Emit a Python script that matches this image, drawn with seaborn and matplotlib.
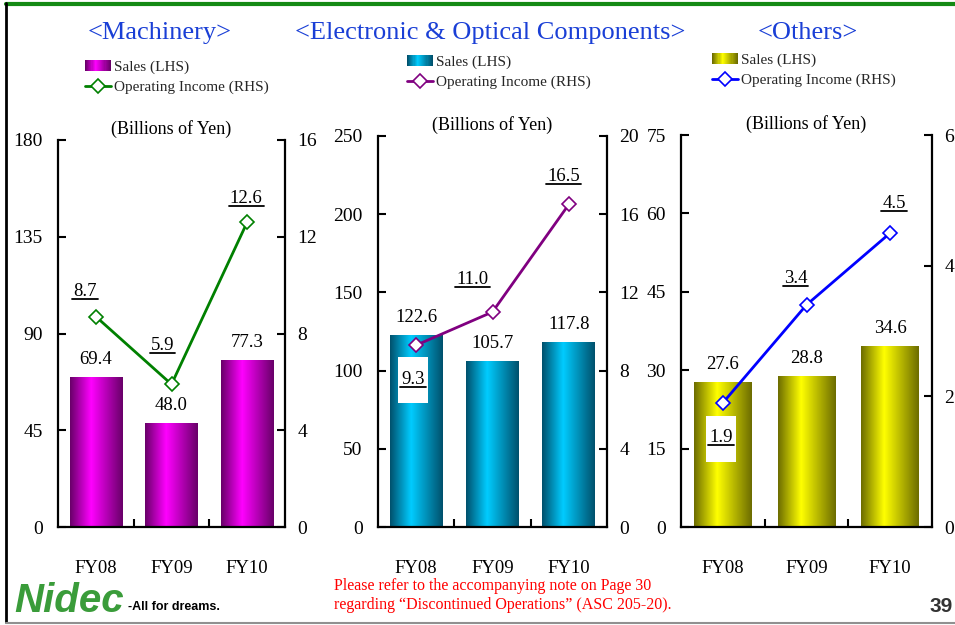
import numpy as np
import pandas as pd
import matplotlib
matplotlib.use("Agg")
import matplotlib.pyplot as plt
import seaborn as sns
from matplotlib.colors import LinearSegmentedColormap
from matplotlib.lines import Line2D
from matplotlib.patches import Rectangle
from matplotlib.legend_handler import HandlerBase
from matplotlib.transforms import IdentityTransform

# ---- data ----
years = ["FY08", "FY09", "FY10"]
segments = ["<Machinery>", "<Electronic & Optical Components>", "<Others>"]

sales_machinery = [69.4, 48.0, 77.3]
sales_electronic = [122.6, 105.7, 117.8]
sales_others = [27.6, 28.8, 34.6]

oi_machinery = [8.7, 5.9, 12.6]
oi_electronic = [9.3, 11.0, 16.5]
oi_others = [1.9, 3.4, 4.5]

lhs_max = [180, 250, 75]
lhs_step = [45, 50, 15]
rhs_max = [16, 20, 6]
rhs_step = [4, 4, 2]

sales_all = [sales_machinery, sales_electronic, sales_others]
oi_all = [oi_machinery, oi_electronic, oi_others]

# ---- style ----
W, H = 955, 625
bar_dark = ["#680068", "#00506c", "#6c6c00"]
bar_bright = ["#ff00ff", "#00ccff", "#ffff00"]
line_colors = ["#008000", "#800080", "#0000ff"]
# axes boxes in pixels: left, top, right, bottom
ax_px = [(58, 140, 285, 527), (378, 136, 607, 527), (681, 135, 932, 527)]
title_x = [160, 490, 808]
legend_anchor = [(85, 60), (407, 55), (712, 53)]
# label offsets (pixels) for operating income labels
oi_offsets = [[(-11, 25), (-9, 39), (-1, 24)],
              [(-3, -34), (-20, 32), (-5, 28)],
              [(-2, -35), (-11, 26), (4, 30)]]
oi_boxed = [[False, False, False], [True, False, False], [True, False, False]]


class GradientHandler(HandlerBase):
    def __init__(self, cmap, n=24):
        super().__init__()
        self.cmap = cmap
        self.n = n

    def create_artists(self, legend, orig_handle, xdescent, ydescent,
                       width, height, fontsize, trans):
        arts = []
        step = width / self.n
        for k in range(self.n):
            r = Rectangle((-xdescent + k * step, -ydescent), step * 1.05, height,
                          facecolor=self.cmap(k / (self.n - 1)), edgecolor="none",
                          transform=trans)
            arts.append(r)
        return arts


sns.set_theme(style="white")
plt.rcParams["font.family"] = ["Liberation Serif", "DejaVu Serif"]

fig = plt.figure(figsize=(W / 100, H / 100), dpi=100)

oi_texts = []
for i in range(3):
    l, t, r, b = ax_px[i]
    ax = fig.add_axes([l / W, 1 - b / H, (r - l) / W, (b - t) / H])
    df = pd.DataFrame({"year": years, "sales": sales_all[i], "oi": oi_all[i]})

    sns.barplot(data=df, x="year", y="sales", color=bar_bright[i], saturation=1,
                width=0.69, ax=ax)
    cmap = LinearSegmentedColormap.from_list(
        "g%d" % i, [(0, bar_dark[i]), (0.4, bar_bright[i]), (1, bar_dark[i])])
    grad = np.linspace(0, 1, 256).reshape(1, -1)
    for p in ax.patches:
        x0, w, h = p.get_x(), p.get_width(), p.get_height()
        ax.imshow(grad, extent=[x0, x0 + w, 0, h], aspect="auto", cmap=cmap,
                  origin="lower", zorder=2)
        p.set_visible(False)
        ax.annotate(f"{h:.1f}", (x0 + w / 2, h), xytext=(0, 18),
                    textcoords="offset pixels", ha="center", va="center",
                    fontsize=13.5, color="black", zorder=3)
    ax.set_ylim(0, lhs_max[i])

    ax2 = ax.twinx()
    sns.pointplot(data=df, x="year", y="oi", color=line_colors[i], markers="D",
                  errorbar=None, markersize=7, markerfacecolor="white",
                  markeredgewidth=1.2, linewidth=2, ax=ax2)
    ax2.set_ylim(0, rhs_max[i])
    for j, v in enumerate(oi_all[i]):
        txt = ax2.annotate(f"{v:.1f}", (j, v), xytext=oi_offsets[i][j],
                           textcoords="offset pixels", ha="center", va="center",
                           fontsize=13.5, color="black", zorder=6)
        oi_texts.append((txt, oi_boxed[i][j], ax2))

    # axes cosmetics
    ax.set_xlim(-0.5, 2.5)
    ax.set_xticks([0, 1, 2])
    ax.set_xticklabels(years)
    ax.set_xticks([0.5, 1.5], minor=True)
    ax.set_yticks(np.arange(0, lhs_max[i] + 1, lhs_step[i]))
    ax2.set_yticks(np.arange(0, rhs_max[i] + 1, rhs_step[i]))
    ax.set_xlabel("")
    ax.set_ylabel("")
    ax2.set_xlabel("")
    ax2.set_ylabel("")
    ax.tick_params(axis="x", which="major", length=0, pad=24, labelsize=13.5,
                   colors="black")
    ax.tick_params(axis="x", which="minor", direction="in", length=6, width=1.5,
                   color="black", bottom=True)
    ax.tick_params(axis="y", direction="in", length=6, width=1.5, pad=11,
                   labelsize=14, colors="black", left=True)
    ax2.tick_params(axis="y", direction="in", length=6, width=1.5, pad=9,
                    labelsize=14, colors="black", right=True)
    for s in ["top", "right"]:
        ax.spines[s].set_visible(False)
    for s in ["left", "bottom"]:
        ax.spines[s].set_color("black")
        ax.spines[s].set_linewidth(1.6)
    for s in ["top", "left", "bottom"]:
        ax2.spines[s].set_visible(False)
    ax2.spines["right"].set_color("black")
    ax2.spines["right"].set_linewidth(1.6)
    ax.grid(False)
    ax2.grid(False)

    ax.annotate("(Billions of Yen)", (0.5, 1), xycoords="axes fraction",
                xytext=(0, 11), textcoords="offset pixels", ha="center",
                va="center", fontsize=13, color="black")

    fig.text(title_x[i] / W, 1 - 33 / H, segments[i], ha="center", va="center",
             fontsize=19, color="#1a3fd6")

    sales_handle = Rectangle((0, 0), 1, 1)
    line_handle = Line2D([], [], color=line_colors[i], marker="D",
                         markerfacecolor="white", markersize=7, lw=2,
                         markeredgewidth=1.2)
    lx, ly = legend_anchor[i]
    fig.legend([sales_handle, line_handle], ["Sales (LHS)", "Operating Income (RHS)"],
               loc="upper left", bbox_to_anchor=(lx / W, 1 - ly / H),
               bbox_transform=fig.transFigure, frameon=False, fontsize=11,
               handlelength=1.7, handletextpad=0.2, labelspacing=0.42,
               borderpad=0, borderaxespad=0,
               handler_map={Rectangle: GradientHandler(cmap)})

# frame lines
fig.add_artist(Line2D([6 / W, 1], [1 - 4 / H, 1 - 4 / H], transform=fig.transFigure,
                      color="#148a14", lw=3))
fig.add_artist(Line2D([6 / W, 6 / W], [1 - 3 / H, 3 / H], transform=fig.transFigure,
                      color="black", lw=2))
fig.add_artist(Line2D([6 / W, 1], [2 / H, 2 / H], transform=fig.transFigure,
                      color="#909090", lw=1.5))

# footer
fig.text(334 / W, 1 - 586 / H, "Please refer to the accompanying note on Page 30",
         color="#ff0000", fontsize=11.5, va="center")
fig.text(334 / W, 1 - 605 / H,
         "regarding \u201cDiscontinued Operations\u201d (ASC 205-20).",
         color="#ff0000", fontsize=11.5, va="center")
fig.text(14 / W, 1 - 601 / H, "Nidec", fontsize=29, fontweight="bold", style="italic",
         family="Liberation Sans", color="#3a9c3a", va="center")
fig.text(128 / W, 1 - 607 / H, "-All for dreams.", fontsize=9, fontweight="bold",
         family="Liberation Sans", color="black", va="center")
fig.text(953 / W, 1 - 607 / H, "39", ha="right", va="center", fontsize=15,
         fontweight="bold", family="Liberation Sans", color="#333333")

# underline the operating income labels (and white boxes where needed)
fig.canvas.draw()
renderer = fig.canvas.get_renderer()
for txt, boxed, axx in oi_texts:
    bb = txt.get_window_extent(renderer)
    ln = Line2D([bb.x0 - 1, bb.x1 + 1], [bb.y0 + 1, bb.y0 + 1],
                transform=IdentityTransform(), color="black", lw=1.3, zorder=7)
    ln.set_clip_on(False)
    axx.add_artist(ln)
    if boxed:
        cy = (bb.y0 + bb.y1) / 2
        rect = Rectangle((bb.x0 - 3, cy - 24), bb.width + 6, 46,
                         transform=IdentityTransform(), facecolor="white",
                         edgecolor="none", zorder=5)
        rect.set_clip_on(False)
        axx.add_artist(rect)

fig.savefig("out.png", dpi=100)
